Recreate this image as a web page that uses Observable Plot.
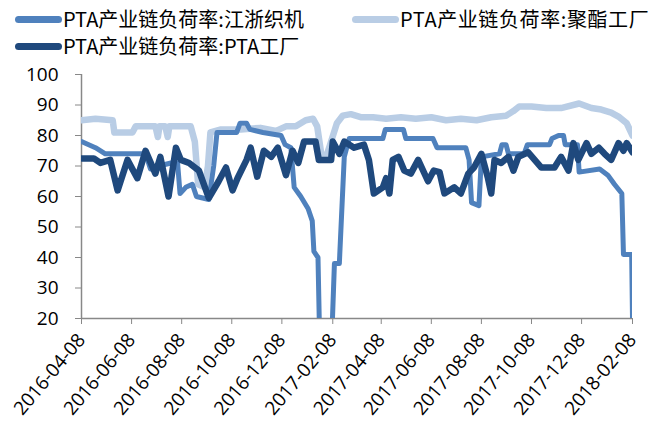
<!DOCTYPE html>
<html><head><meta charset="utf-8">
<script src="https://cdn.jsdelivr.net/npm/d3@7"></script>
<script src="https://cdn.jsdelivr.net/npm/@observablehq/plot@0.6"></script>
<style>
body{margin:0;background:#fff;}
#wrap{position:relative;width:655px;height:423px;overflow:hidden;}
#legend{position:absolute;left:0;top:0;width:655px;height:60px;font-family:"Noto Sans CJK SC";font-size:20px;color:#000;}
.item{position:absolute;display:flex;align-items:center;white-space:nowrap;height:28px;line-height:28px;}
.sw{display:inline-block;width:47px;height:7px;border-radius:4px;margin-right:1px;}
#chart{position:absolute;left:0;top:60px;}
</style></head>
<body><div id="wrap"><div id="legend"></div><div id="chart"></div></div>
<script>
const seriesNames = ["PTA产业链负荷率:江浙织机", "PTA产业链负荷率:聚酯工厂", "PTA产业链负荷率:PTA工厂"];
const seriesColors = ["#4f81bd", "#b9cde5", "#1f497d"];

const yTicks = [20, 30, 40, 50, 60, 70, 80, 90, 100];
const xTickLabels = ["2016-04-08","2016-06-08","2016-08-08","2016-10-08","2016-12-08","2017-02-08","2017-04-08","2017-06-08","2017-08-08","2017-10-08","2017-12-08","2018-02-08"];

// 江浙织机
const weaveDates = ["2016-04-08","2016-04-25","2016-05-07","2016-06-25","2016-07-01","2016-07-11","2016-07-26","2016-08-03","2016-08-06","2016-08-13","2016-08-21","2016-08-26","2016-09-10","2016-09-16","2016-09-20","2016-10-14","2016-10-18","2016-10-26","2016-10-30","2016-11-15","2016-12-07","2016-12-12","2016-12-19","2016-12-23","2016-12-31","2017-01-09","2017-01-14","2017-01-16","2017-01-21","2017-01-24","2017-02-05","2017-02-10","2017-02-16","2017-02-22","2017-02-28","2017-04-10","2017-04-13","2017-05-05","2017-05-08","2017-06-10","2017-06-15","2017-07-20","2017-07-24","2017-07-27","2017-08-05","2017-08-08","2017-08-30","2017-09-02","2017-09-07","2017-09-10","2017-09-29","2017-10-03","2017-10-30","2017-11-02","2017-11-10","2017-11-16","2017-11-18","2017-12-03","2017-12-05","2017-12-30","2018-01-09","2018-01-17","2018-01-26","2018-01-28","2018-02-07","2018-02-08"];
const weaveValues = [78,76,74,74,69,70,71,71,61,63,64,60,59,70,81,81,84,84,82,81,80,77,76,63,60,56,52,42,40,0,0,38,38,73,79,79,82,82,79,79,76,76,72,58,57,73,74,77,77,74,74,77,77,79,80,80,77,77,68,69,67,64,61,41,41,20];

// 聚酯工厂
const polyDates = ["2016-04-08","2016-04-25","2016-05-16","2016-05-18","2016-06-09","2016-06-13","2016-07-07","2016-07-10","2016-07-12","2016-07-19","2016-07-22","2016-07-24","2016-08-19","2016-08-24","2016-08-28","2016-09-05","2016-09-09","2016-09-12","2016-09-25","2016-10-19","2016-11-12","2016-12-01","2016-12-13","2016-12-25","2017-01-06","2017-01-15","2017-01-20","2017-01-25","2017-01-31","2017-02-06","2017-02-13","2017-02-20","2017-03-02","2017-03-14","2017-03-29","2017-04-14","2017-05-02","2017-05-20","2017-06-08","2017-06-26","2017-07-14","2017-08-02","2017-08-20","2017-09-07","2017-09-16","2017-09-23","2017-10-08","2017-10-26","2017-11-13","2017-12-05","2017-12-20","2018-01-01","2018-01-13","2018-01-23","2018-02-01","2018-02-08"];
const polyValues = [85,85.5,85,81,81,83,83,79.5,83,83,79.5,83,83,78,64,63,70,81,82,82,82.5,81.5,83,83,85,85.5,83,74,73,78,84,86.5,87,86,86,85.5,86,85.5,86,85,85.5,85,86,86.5,88,89.5,89.5,89,89,90.5,89,88.5,87.5,86,84,80];

// PTA工厂
const ptaDates = ["2016-04-08","2016-04-23","2016-05-01","2016-05-13","2016-05-22","2016-06-03","2016-06-15","2016-06-25","2016-07-07","2016-07-13","2016-07-23","2016-08-01","2016-08-07","2016-08-17","2016-08-29","2016-09-10","2016-09-22","2016-10-01","2016-10-09","2016-10-15","2016-10-26","2016-10-31","2016-11-08","2016-11-16","2016-11-25","2016-12-03","2016-12-13","2016-12-21","2016-12-28","2017-01-04","2017-01-18","2017-01-22","2017-02-06","2017-02-08","2017-02-16","2017-02-22","2017-03-06","2017-03-18","2017-03-24","2017-03-30","2017-04-10","2017-04-14","2017-04-18","2017-04-22","2017-04-29","2017-05-06","2017-05-14","2017-05-23","2017-06-04","2017-06-11","2017-06-18","2017-06-24","2017-07-06","2017-07-14","2017-07-23","2017-07-30","2017-08-08","2017-08-16","2017-08-20","2017-08-24","2017-09-01","2017-09-10","2017-09-16","2017-09-22","2017-10-04","2017-10-20","2017-11-05","2017-11-13","2017-11-22","2017-11-28","2017-12-04","2017-12-14","2017-12-20","2017-12-29","2018-01-05","2018-01-13","2018-01-22","2018-01-28","2018-02-01","2018-02-08"];
const ptaValues = [72.5,72.5,71,72,62,72,66,75,67.5,73,60,76,72,71,68.5,59.5,65,69.5,62,66,72,76,66.5,75,73,76,67,75,71,78,78,72,72,78,74,78,76,77,72,61,63,66,61,72,73,68.5,67.5,72,65,68.5,68,61,63,61,67.5,69.5,74,66,61,72,71,73,68.5,73,74.5,69.5,69.5,73,68.5,77.5,72,77.5,74,76,74,72,77.5,75,77.5,74.5];

const toRows = (dates, values) => dates.map((d, i) => ({date: new Date(d), value: values[i]}));
const weave = toRows(weaveDates, weaveValues);
const poly = toRows(polyDates, polyValues);
const pta = toRows(ptaDates, ptaValues);
const xTicks = xTickLabels.map(d => new Date(d));

// legend
const legend = document.getElementById("legend");
const legendPos = [[15, 5], [352, 5], [15, 32]];
seriesNames.forEach((name, i) => {
  const it = document.createElement("div");
  it.className = "item";
  it.style.left = legendPos[i][0] + "px";
  it.style.top = legendPos[i][1] + "px";
  const sw = document.createElement("span");
  sw.className = "sw";
  sw.style.background = seriesColors[i];
  it.appendChild(sw);
  const t = document.createElement("span");
  t.textContent = name;
  if (i === 1) t.style.letterSpacing = "0.6px";
  it.appendChild(t);
  legend.appendChild(it);
});

const lineOpts = (color, w) => ({x: "date", y: "value", stroke: color, strokeWidth: w, strokeLinejoin: "round", strokeLinecap: "round", clip: true});

const chart = Plot.plot({
  width: 655,
  height: 363,
  marginTop: 14,
  marginBottom: 105,
  marginLeft: 81,
  marginRight: 23,
  style: {fontFamily: "Open Sans", background: "#fff", color: "#000"},
  x: {type: "utc", domain: [xTicks[0], xTicks[xTicks.length - 1]]},
  y: {domain: [20, 100]},
  marks: [
    Plot.axisY({ticks: yTicks, tickSize: 6, tickPadding: 17, stroke: "#888", fill: "#000", fontSize: 19, label: null}),
    Plot.axisX({ticks: xTicks, tickFormat: d3.utcFormat("%Y-%m-%d"), tickSize: 6, tickPadding: 12, tickRotate: -50, stroke: "#888", fill: "#000", fontSize: 19, label: null}),
    Plot.ruleX([xTicks[0]], {stroke: "#888", strokeWidth: 1.5}),
    Plot.ruleY([20], {stroke: "#888", strokeWidth: 1.5}),
    Plot.line(poly, lineOpts(seriesColors[1], 6.5)),
    Plot.line(weave, lineOpts(seriesColors[0], 5)),
    Plot.line(pta, lineOpts(seriesColors[2], 6.5))
  ]
});
document.getElementById("chart").appendChild(chart);
</script>
</body></html>
